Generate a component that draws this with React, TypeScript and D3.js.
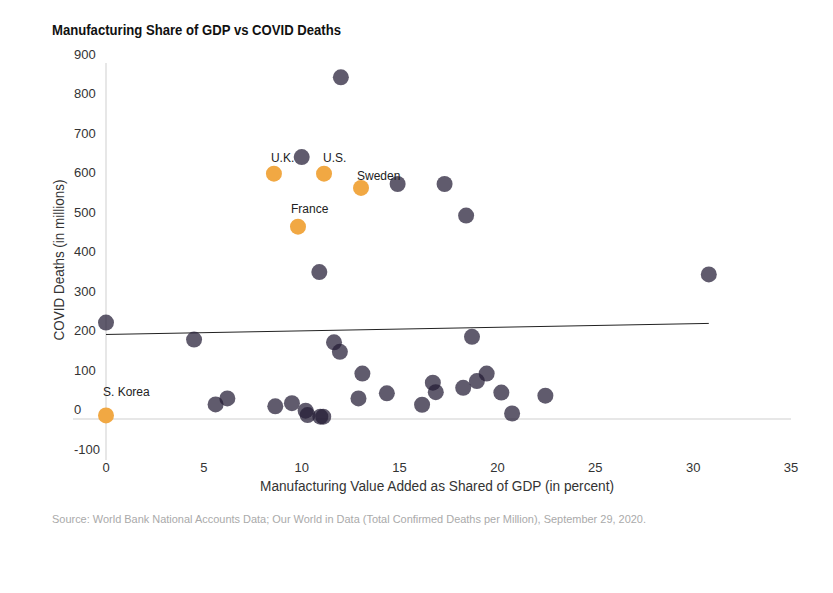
import React from "react";
import * as d3 from "d3";

const darkX = [12.0, 10.0, 14.9, 17.3, 18.4, 10.9, 30.8, 0, 4.5, 18.7, 11.65, 11.95, 13.1, 16.7, 19.45, 18.95, 18.25, 16.85, 20.2, 22.45, 14.35, 12.9, 6.2, 5.6, 8.65, 9.5, 10.2, 10.3, 10.95, 11.1, 16.15, 20.75];
const darkY = [865, 663, 595, 595, 515, 372, 366, 244, 201, 208, 194, 170, 115, 92, 115, 96, 79, 68, 67, 59, 65, 52, 52, 37, 32, 40, 21, 10, 6, 6, 36, 14];

const hiNames = ["U.K.", "U.S.", "Sweden", "France", "S. Korea"];
const hiX = [8.58, 11.14, 13.03, 9.81, 0];
const hiY = [621, 621, 585, 487, 9];

const trendX = [0, 30.8];
const trendY = [214, 242];

const xTicks = [0, 5, 10, 15, 20, 25, 30, 35];
const yTicks = [-100, 0, 100, 200, 300, 400, 500, 600, 700, 800, 900];

const title = "Manufacturing Share of GDP vs COVID Deaths";
const xTitle = "Manufacturing Value Added as Shared of GDP (in percent)";
const yTitle = "COVID Deaths (in millions)";
const source = "Source: World Bank National Accounts Data; Our World in Data (Total Confirmed Deaths per Million), September 29, 2020.";

const labelOffsets: Record<string, [number, number]> = {
  "U.K.": [-3, -12],
  "U.S.": [-1, -12],
  "Sweden": [-4, -8],
  "France": [-7, -14],
  "S. Korea": [-3, -19],
};

export default function App() {
  const W = 833, H = 593;
  const x = d3.scaleLinear().domain([0, 35]).range([106, 791]);
  const y = d3.scaleLinear().domain([0, 900]).range([419, 63.5]);
  const font = "'Liberation Sans', Arial, sans-serif";
  const line = d3.line<[number, number]>().x(d => x(d[0])).y(d => y(d[1]));
  const trend: [number, number][] = trendX.map((v, i) => [v, trendY[i]]);

  return (
    <svg width={W} height={H} style={{ position: "absolute", left: 0, top: 0, background: "#fff" }} fontFamily={font}>
      <rect x={0} y={0} width={W} height={H} fill="#fff" />
      <text x={52} y={35} fontSize={14} fontWeight="bold" fill="#111" textLength={289} lengthAdjust="spacingAndGlyphs">{title}</text>

      {/* axes */}
      <line x1={73} x2={791} y1={y(0)} y2={y(0)} stroke="#cfcfcf" strokeWidth={1} />
      <line x1={x(0)} x2={x(0)} y1={63} y2={460} stroke="#cfcfcf" strokeWidth={1} />

      {yTicks.map(t => (
        <text key={t} x={74} y={y(t) - 5} fontSize={13} fill="#333">{t}</text>
      ))}
      {xTicks.map(t => (
        <text key={t} x={x(t)} y={472} fontSize={13} fill="#333" textAnchor="middle">{t}</text>
      ))}

      <text x={437} y={491} fontSize={14} fill="#333" textAnchor="middle" textLength={354} lengthAdjust="spacingAndGlyphs">{xTitle}</text>
      <text transform={`translate(64,260) rotate(-90)`} fontSize={14} fill="#333" textAnchor="middle" textLength={161} lengthAdjust="spacingAndGlyphs">{yTitle}</text>

      <path d={line(trend) || ""} stroke="#222" strokeWidth={1} fill="none" />

      {darkX.map((v, i) => (
        <circle key={"d" + i} cx={x(v)} cy={y(darkY[i])} r={8} fill="#221c35" fillOpacity={0.72} />
      ))}

      {hiX.map((v, i) => (
        <circle key={"h" + i} cx={x(v)} cy={y(hiY[i])} r={8} fill="#f1a843" />
      ))}
      {hiX.map((v, i) => {
        const off = labelOffsets[hiNames[i]] || [-3, -12];
        return (
          <text key={"l" + i} x={x(v) + off[0]} y={y(hiY[i]) + off[1]} fontSize={12} fill="#222">{hiNames[i]}</text>
        );
      })}

      <text x={52} y={523} fontSize={11} fill="#aaa" textLength={594} lengthAdjust="spacingAndGlyphs">{source}</text>
    </svg>
  );
}
